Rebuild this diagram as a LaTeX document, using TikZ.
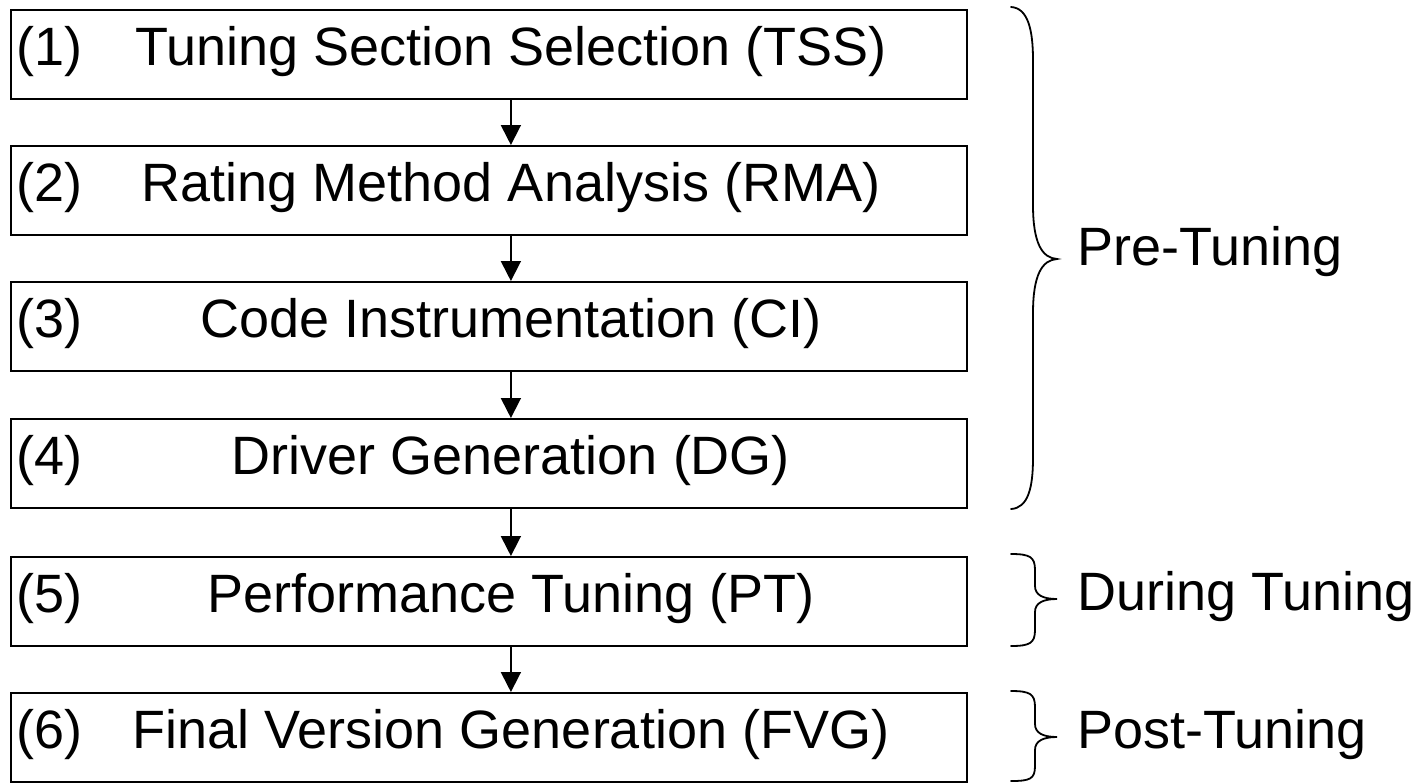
\documentclass[tikz,border=0pt]{standalone}
\usepackage{fontspec}
\setmainfont{Liberation Sans}
\usetikzlibrary{arrows.meta}
\begin{document}
\begin{tikzpicture}[x=1pt,y=-1pt,
  stepbox/.style={draw, line width=1.8pt, minimum width=956pt, minimum height=89pt, inner sep=0pt, anchor=north west},
  txt/.style={anchor=base, inner sep=0pt, font=\fontsize{54}{60}\selectfont},
  num/.style={anchor=base west, inner sep=0pt, font=\fontsize{54}{60}\selectfont},
  lab/.style={anchor=west, inner sep=0pt, font=\fontsize{54}{60}\selectfont},
  arr/.style={line width=1.8pt, -{Triangle[length=20pt,width=20pt]}},
  brace/.style={line width=1.8pt, line cap=round}]
\useasboundingbox (0,0) rectangle (1418,782);
\node[stepbox] (b1) at (10,9) {};
\node[stepbox] (b2) at (10,145) {};
\node[stepbox] (b3) at (10,281) {};
\node[stepbox] (b4) at (10,418) {};
\node[stepbox] (b5) at (10,556) {};
\node[stepbox] (b6) at (10,692) {};
\node[num] (n1) at (16,65) {(1)};
\node[num] (n2) at (16,201) {(2)};
\node[num] (n3) at (16,337) {(3)};
\node[num] (n4) at (16,474) {(4)};
\node[num] (n5) at (16,612) {(5)};
\node[num] (n6) at (16,748) {(6)};
\node[txt] (t1) at (511,65) {Tuning Section Selection (TSS)};
\node[txt] (t2) at (511,201) {Rating Method Analysis (RMA)};
\node[txt] (t3) at (511,337) {Code Instrumentation (CI)};
\node[txt] (t4) at (511,474) {Driver Generation (DG)};
\node[txt] (t5) at (511,612) {Performance Tuning (PT)};
\node[txt] (t6) at (511,748) {Final Version Generation (FVG)};
\draw[arr] ([xshift=22pt]b1.south) -- ([xshift=22pt]b2.north);
\draw[arr] ([xshift=22pt]b2.south) -- ([xshift=22pt]b3.north);
\draw[arr] ([xshift=22pt]b3.south) -- ([xshift=22pt]b4.north);
\draw[arr] ([xshift=22pt]b4.south) -- ([xshift=22pt]b5.north);
\draw[arr] ([xshift=22pt]b5.south) -- ([xshift=22pt]b6.north);
% braces
\coordinate (p1) at (1057,259);
\coordinate (p2) at (1057,599);
\coordinate (p3) at (1057,737);
\draw[brace] (1011,7) .. controls (1028,8) and (1033,30) .. (1033,60) -- (1033,205)
  .. controls (1033,243) and (1042,258) .. (p1)
  .. controls (1042,260) and (1033,275) .. (1033,313) -- (1033,458)
  .. controls (1033,488) and (1028,508) .. (1011,509);
\draw[brace] (1011,554) .. controls (1030,554) and (1035,557) .. (1035,570) -- (1035,586)
  .. controls (1035,595) and (1043,599) .. (p2)
  .. controls (1043,599) and (1035,603) .. (1035,612) -- (1035,630)
  .. controls (1035,643) and (1030,646) .. (1011,646);
\draw[brace] (1011,691) .. controls (1030,691) and (1035,694) .. (1035,707) -- (1035,724)
  .. controls (1035,733) and (1043,737) .. (p3)
  .. controls (1043,737) and (1035,741) .. (1035,750) -- (1035,766)
  .. controls (1035,779) and (1030,781) .. (1011,781);
\node[lab] (l1) at (1077,252) {Pre-Tuning};
\node[lab] (l2) at (1077,597) {During Tuning};
\node[lab] (l3) at (1077,735) {Post-Tuning};
\end{tikzpicture}
\end{document}
